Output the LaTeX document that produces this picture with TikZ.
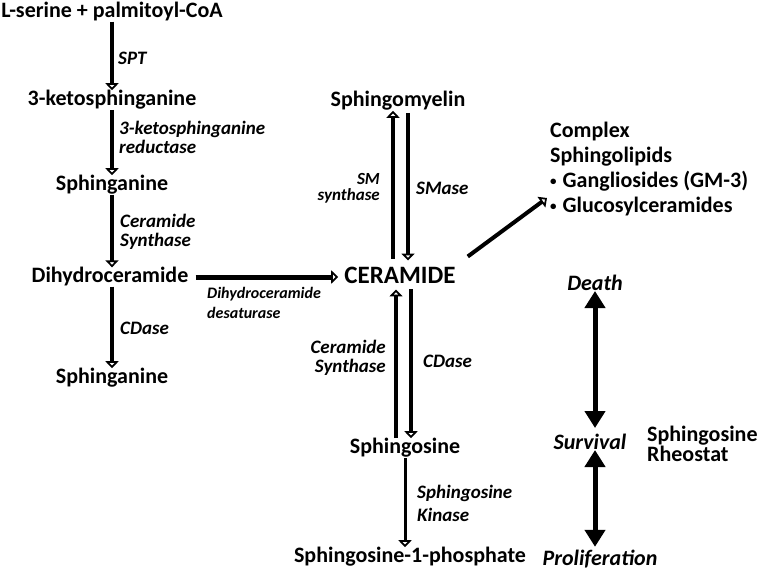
\documentclass[tikz,border=0pt]{standalone}
\usepackage{fontspec}
\setmainfont{Carlito}
\usetikzlibrary{arrows.meta}
\newcommand\smallbul{\raisebox{2.5pt}{\fontsize{13}{13}\selectfont\textbullet}\hspace{6pt}}

\begin{document}
\begin{tikzpicture}[x=1pt,y=-1pt,
  chem/.style={font=\bfseries\fontsize{22}{26}\selectfont,inner sep=0pt},
  enz/.style={font=\bfseries\itshape\fontsize{19}{19}\selectfont,inner sep=0pt,align=left,anchor=west},
  enzr/.style={enz,align=right,anchor=east},
  fate/.style={font=\bfseries\itshape\fontsize{22}{26}\selectfont,inner sep=0pt},
  rxn/.style={line width=3.5pt,-{Triangle[open,length=7pt,width=13pt,line width=2pt]}},
  bigarr/.style={line width=5pt,{Triangle[length=17pt,width=20pt]}-{Triangle[length=17pt,width=20pt]}}]
      \useasboundingbox (0,0) rectangle (759,571);

      % de novo pathway
      \node[chem] (lser) at (112,12) {L-serine + palmitoyl-CoA};
      \node[chem] (keto) at (112,100) {3-ketosphinganine};
      \node[chem] (sphga) at (112,185) {Sphinganine};
      \node[chem] (dhc) at (110,277) {Dihydroceramide};
      \node[chem] (sphgb) at (112,378) {Sphinganine};

      \node[enz] (spt) at (118,58) {SPT};
      \node[enz] (ksr) at (119,137.5) {3-ketosphinganine\\reductase};
      \node[enz] (cersa) at (120,232) {Ceramide\\Synthase};
      \node[enz] (cdasea) at (120,328) {CDase};
      \node[enz,font=\bfseries\itshape\fontsize{16}{20}\selectfont] (desat) at (207,303) {Dihydroceramide\\desaturase};

      \draw[rxn] (lser) -- (keto);
      \draw[rxn] (keto) -- (sphga);
      \draw[rxn] (sphga.south) -- (sphga.south |- dhc.north);
      \draw[rxn] (sphga.south |- dhc.south) -- (sphgb.north);

      % ceramide hub
      \node[chem,font=\bfseries\fontsize{25}{30}\selectfont,inner ysep=6pt] (cer) at (400,275) {CERAMIDE};
      \node[chem] (sm) at (398,101) {Sphingomyelin};
      \node[chem] (sph) at (405,448) {Sphingosine};
      \node[chem] (s1p) at (410,557) {Sphingosine-1-phosphate};

      \node[enzr,font=\bfseries\itshape\fontsize{17}{16}\selectfont] (sms) at (380,188) {SM\\synthase};
      \node[enz] (smase) at (416,188) {SMase};
      \node[enzr] (cersb) at (386,358) {Ceramide\\Synthase};
      \node[enz] (cdaseb) at (423,361) {CDase};
      \node[enz,font=\bfseries\itshape\fontsize{19}{23}\selectfont] (sk) at (417,503.5) {Sphingosine\\Kinase};

      \draw[rxn,line width=5pt,shorten <=7pt,shorten >=6pt] (dhc.east) -- (dhc.east -| cer.west);
      \draw[rxn,shorten <=2pt] ([xshift=-7pt]cer.north) -- ([xshift=-7pt]cer.north |- sm.south);
      \draw[rxn,shorten <=2pt] ([xshift=8pt]cer.north |- sm.south) -- ([xshift=8pt]cer.north);
      \draw[rxn] ([xshift=-9pt]sph.north) -- ([xshift=-9pt]sph.north |- cer.south);
      \draw[rxn] ([xshift=6pt]sph.north |- cer.south) -- ([xshift=6pt]sph.north);
      \draw[rxn,line width=3pt] (sph.south) -- (sph.south |- s1p.north);

      % complex sphingolipids
      \node[chem,align=left,anchor=north west,font=\bfseries\fontsize{22}{25}\selectfont] (cplx) at (550,122)
        {Complex\\Sphingolipids\\\smallbul Gangliosides (GM-3)\\\smallbul Glucosylceramides};
      \coordinate (cplxin) at (547,198);
      \draw[rxn,line width=4pt] ([xshift=12pt,yshift=4pt]cer.north east) -- (cplxin);

      % rheostat
      \node[fate] (death) at (595,283) {Death};
      \node[fate] (surv) at (590,442) {Survival};
      \node[fate] (prolif) at (600,559) {Proliferation};
      \node[chem,align=left,anchor=west,font=\bfseries\fontsize{22}{18}\selectfont] (rheo) at (647,444) {Sphingosine\\Rheostat};

      \draw[bigarr,shorten >=6pt] (death.south) -- (death.south |- surv.north);
      \draw[bigarr,shorten >=3pt] (death.south |- surv.south) -- (death.south |- prolif.north);
\end{tikzpicture}
\end{document}
